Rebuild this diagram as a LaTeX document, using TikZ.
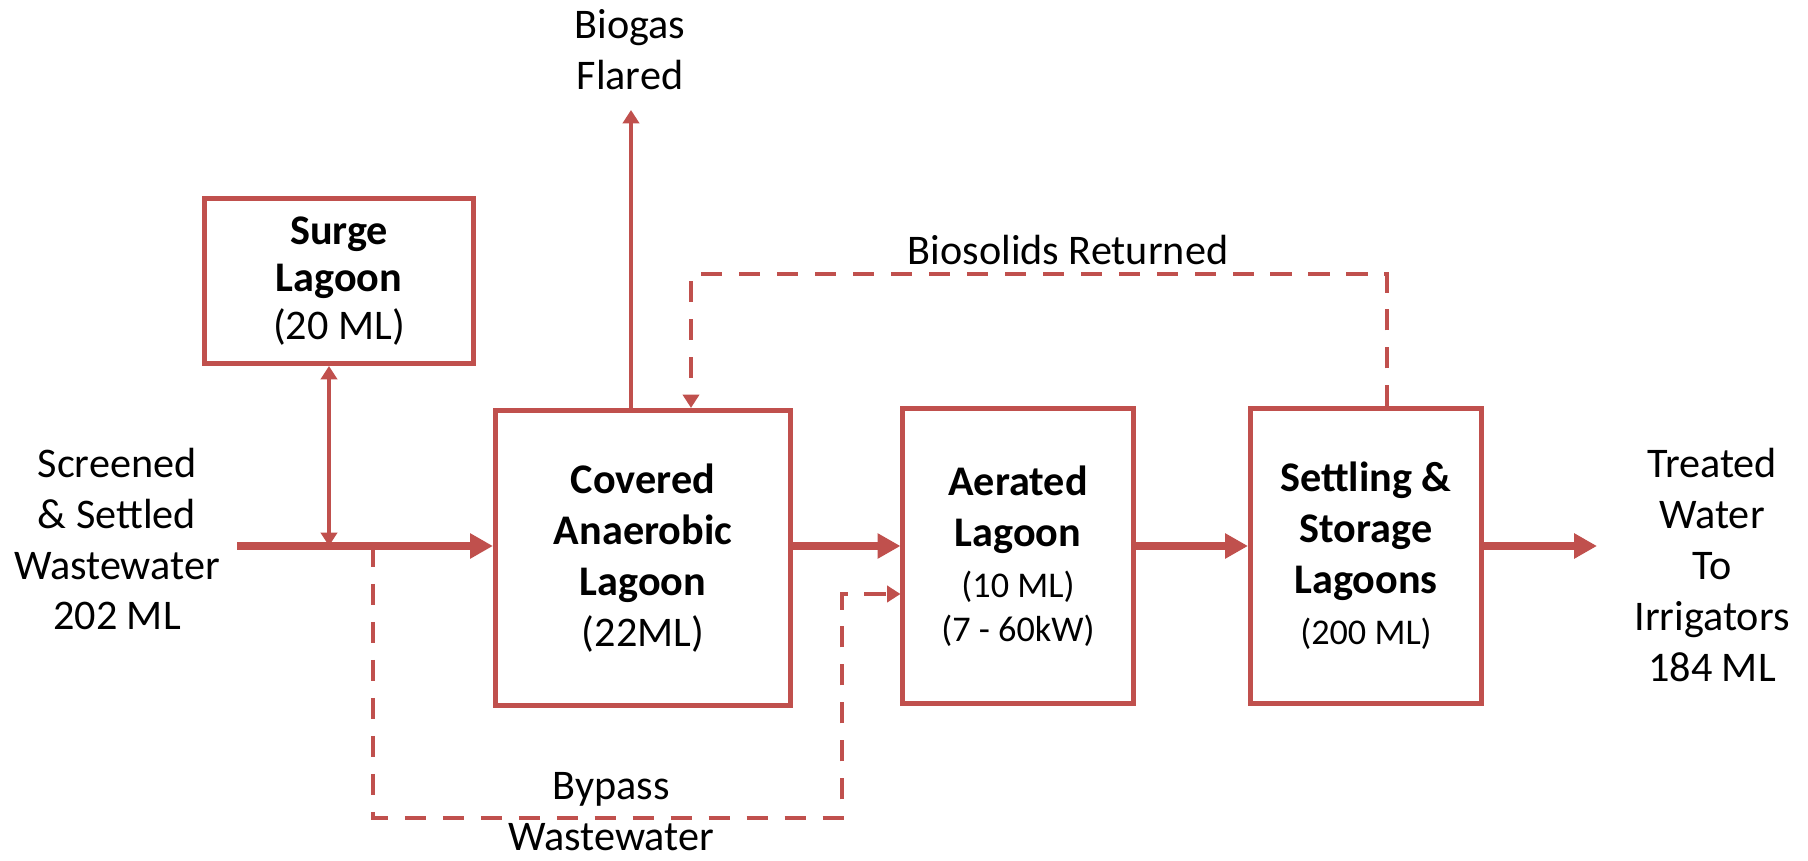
\documentclass[tikz,border=0pt]{standalone}
\usepackage{fontspec}
\setmainfont{Carlito}
\usetikzlibrary{arrows.meta}

\definecolor{lagoonred}{HTML}{C0504D}
\tikzstyle{lagoon}=[draw=lagoonred, line width=1.4pt, align=center, font=\fontsize{12}{14.5}\selectfont\bfseries, inner sep=0]
\tikzstyle{flowtext}=[align=center, inner sep=0]
\tikzstyle{mainflow}=[draw=lagoonred, line width=2.3pt, -{Triangle[length=6.5pt, width=6.8pt]}]
\tikzstyle{thinflow}=[draw=lagoonred, line width=1.2pt, -{Triangle[length=3.8pt, width=4.6pt]}]
\tikzstyle{returnflow}=[thinflow, dash pattern=on 6pt off 4.8pt]
\newcommand{\smalltext}{\mdseries\fontsize{10.3}{12.5}\selectfont}

\begin{document}
\begin{tikzpicture}[x=0.01cm, y=-0.01cm, font=\fontsize{12}{14.5}\selectfont]

\useasboundingbox (0, 0) rectangle (1808, 861);

% lagoons
\node [lagoon, minimum width=2.68cm, minimum height=1.65cm] (surge) at (339, 281) {Surge\\[-1pt]Lagoon\\[-1pt]{\mdseries (20 ML)}};
\node [lagoon, minimum width=2.95cm, minimum height=2.95cm] (covered) at (643, 558) {Covered\\Anaerobic\\Lagoon\\{\mdseries (22ML)}};
\node [lagoon, minimum width=2.30cm, minimum height=2.94cm] (aerated) at (1018, 556) {Aerated\\Lagoon\\{\smalltext (10 ML)}\\[-2pt]{\smalltext (7 - 60kW)}};
\node [lagoon, minimum width=2.31cm, minimum height=2.94cm] (settling) at (1366, 556) {Settling \&\\Storage\\Lagoons\\{\smalltext (200 ML)}};

% flow texts
\node [flowtext] (inflow) at (117, 539) {Screened\\\& Settled\\Wastewater\\202 ML};
\node [flowtext] (outflow) at (1712, 565) {Treated\\Water\\To\\Irrigators\\184 ML};
\node [flowtext] (biogas) at (630, 50) {Biogas\\Flared};
\node [flowtext] (biosolids) at (1068, 250) {Biosolids Returned};
\node [flowtext] (bypass) at (611, 812) {Bypass\\Wastewater};

\coordinate (inlet) at (237, 546);
\coordinate (split) at (329, 546);
\coordinate (outlet) at (1597, 546);
\coordinate (flare) at (631, 110);
\coordinate (sludgeup) at (1387, 274);
\coordinate (sludgeback) at (691, 274);
\coordinate (bypassstart) at (373, 546);
\coordinate (bypassdown) at (373, 818);
\coordinate (bypassover) at (842, 818);
\coordinate (bypassup) at (842, 594);

\draw [mainflow] (inlet) -- (inlet -| covered.west);
\draw [mainflow] (covered.east |- inlet) -- (aerated.west |- inlet);
\draw [mainflow] (aerated.east |- inlet) -- (settling.west |- inlet);
\draw [mainflow] (settling.east |- inlet) -- (outlet);

\draw [thinflow, {Triangle[length=3.8pt, width=4.6pt]}-{Triangle[length=3.8pt, width=4.6pt]}] (split |- surge.south) -- (split);
\draw [thinflow] (flare |- covered.north) -- (flare);

\draw [returnflow] (sludgeup |- settling.north) -- (sludgeup)
        -- (sludgeback) -- (sludgeback |- covered.north);
\draw [returnflow] (bypassstart) -- (bypassdown)
        -- (bypassover) -- (bypassup) -- (bypassup -| aerated.west);

\end{tikzpicture}
\end{document}
